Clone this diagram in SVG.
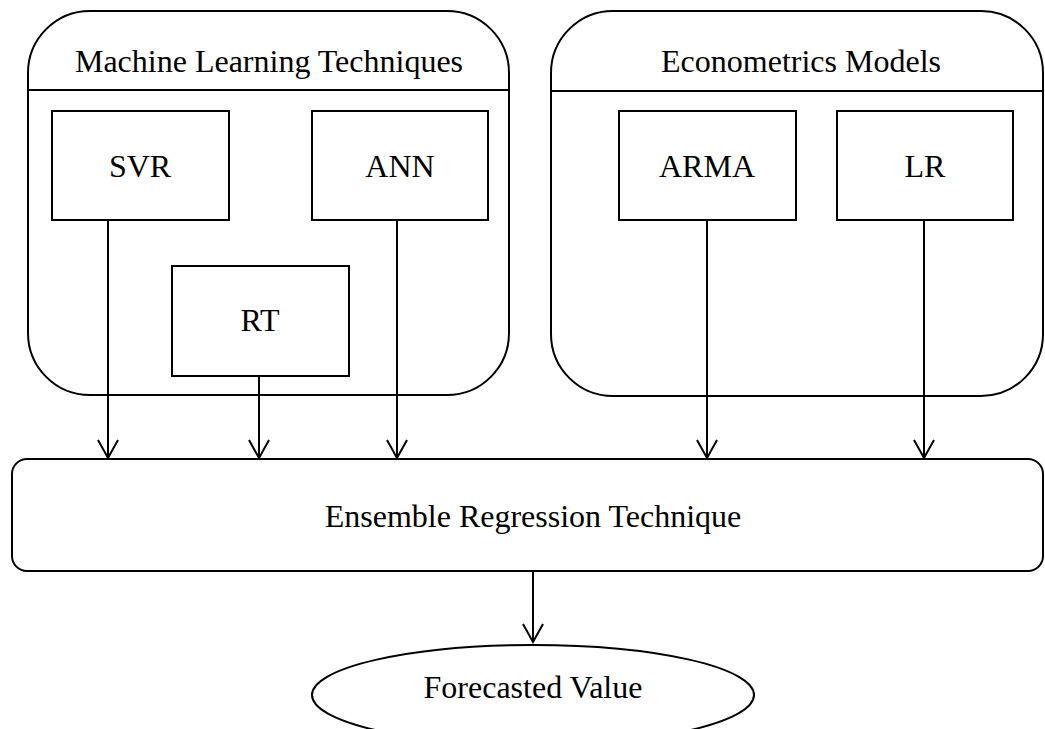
<svg xmlns="http://www.w3.org/2000/svg" width="1045" height="729" viewBox="0 0 1045 729">
<defs>
<style>
.s{fill:#fff;stroke:#000;stroke-width:2}
.t{font-family:"Liberation Serif","Times New Roman",serif;font-size:32px;fill:#000;text-anchor:middle}
.c{fill:none;stroke:#000;stroke-width:2}
</style>
<marker id="ah" markerWidth="22" markerHeight="24" refX="19" refY="11" markerUnits="userSpaceOnUse" orient="auto" viewBox="0 0 22 24">
<path d="M1,1 L19,11 L1,21" fill="none" stroke="#000" stroke-width="2"/>
</marker>
</defs>
<rect width="1045" height="729" fill="#fff"/>
<g id="ml-group">
<rect class="s" x="28" y="11" width="481" height="384" rx="62" ry="62"/>
<line class="c" x1="28" y1="90" x2="509" y2="90"/>
<text class="t" x="269" y="72">Machine Learning Techniques</text>
</g>
<g id="econ-group">
<rect class="s" x="551" y="11" width="492" height="385" rx="62" ry="62"/>
<line class="c" x1="551" y1="91" x2="1043" y2="91"/>
<text class="t" x="801" y="72">Econometrics Models</text>
</g>
<g id="svr"><rect class="s" x="52" y="111" width="177" height="109"/><text class="t" x="140" y="177">SVR</text></g>
<g id="ann"><rect class="s" x="312" y="111" width="176" height="109"/><text class="t" x="400" y="177">ANN</text></g>
<g id="rt"><rect class="s" x="172" y="266" width="177" height="110"/><text class="t" x="260" y="331">RT</text></g>
<g id="arma"><rect class="s" x="619" y="111" width="177" height="109"/><text class="t" x="707" y="177">ARMA</text></g>
<g id="lr"><rect class="s" x="837" y="111" width="176" height="109"/><text class="t" x="925" y="177">LR</text></g>
<g id="ensemble"><rect class="s" x="12" y="459" width="1031" height="112" rx="15" ry="15"/><text class="t" x="533" y="527">Ensemble Regression Technique</text></g>
<g id="forecast"><ellipse class="s" cx="533" cy="695" rx="221" ry="50"/><text class="t" x="533" y="698">Forecasted Value</text></g>
<g id="connectors">
<line class="c" x1="108" y1="220" x2="108" y2="458" marker-end="url(#ah)"/>
<line class="c" x1="259" y1="376" x2="259" y2="458" marker-end="url(#ah)"/>
<line class="c" x1="397" y1="220" x2="397" y2="458" marker-end="url(#ah)"/>
<line class="c" x1="707" y1="220" x2="707" y2="458" marker-end="url(#ah)"/>
<line class="c" x1="924" y1="220" x2="924" y2="458" marker-end="url(#ah)"/>
<line class="c" x1="533" y1="571" x2="533" y2="642" marker-end="url(#ah)"/>
</g>
</svg>
